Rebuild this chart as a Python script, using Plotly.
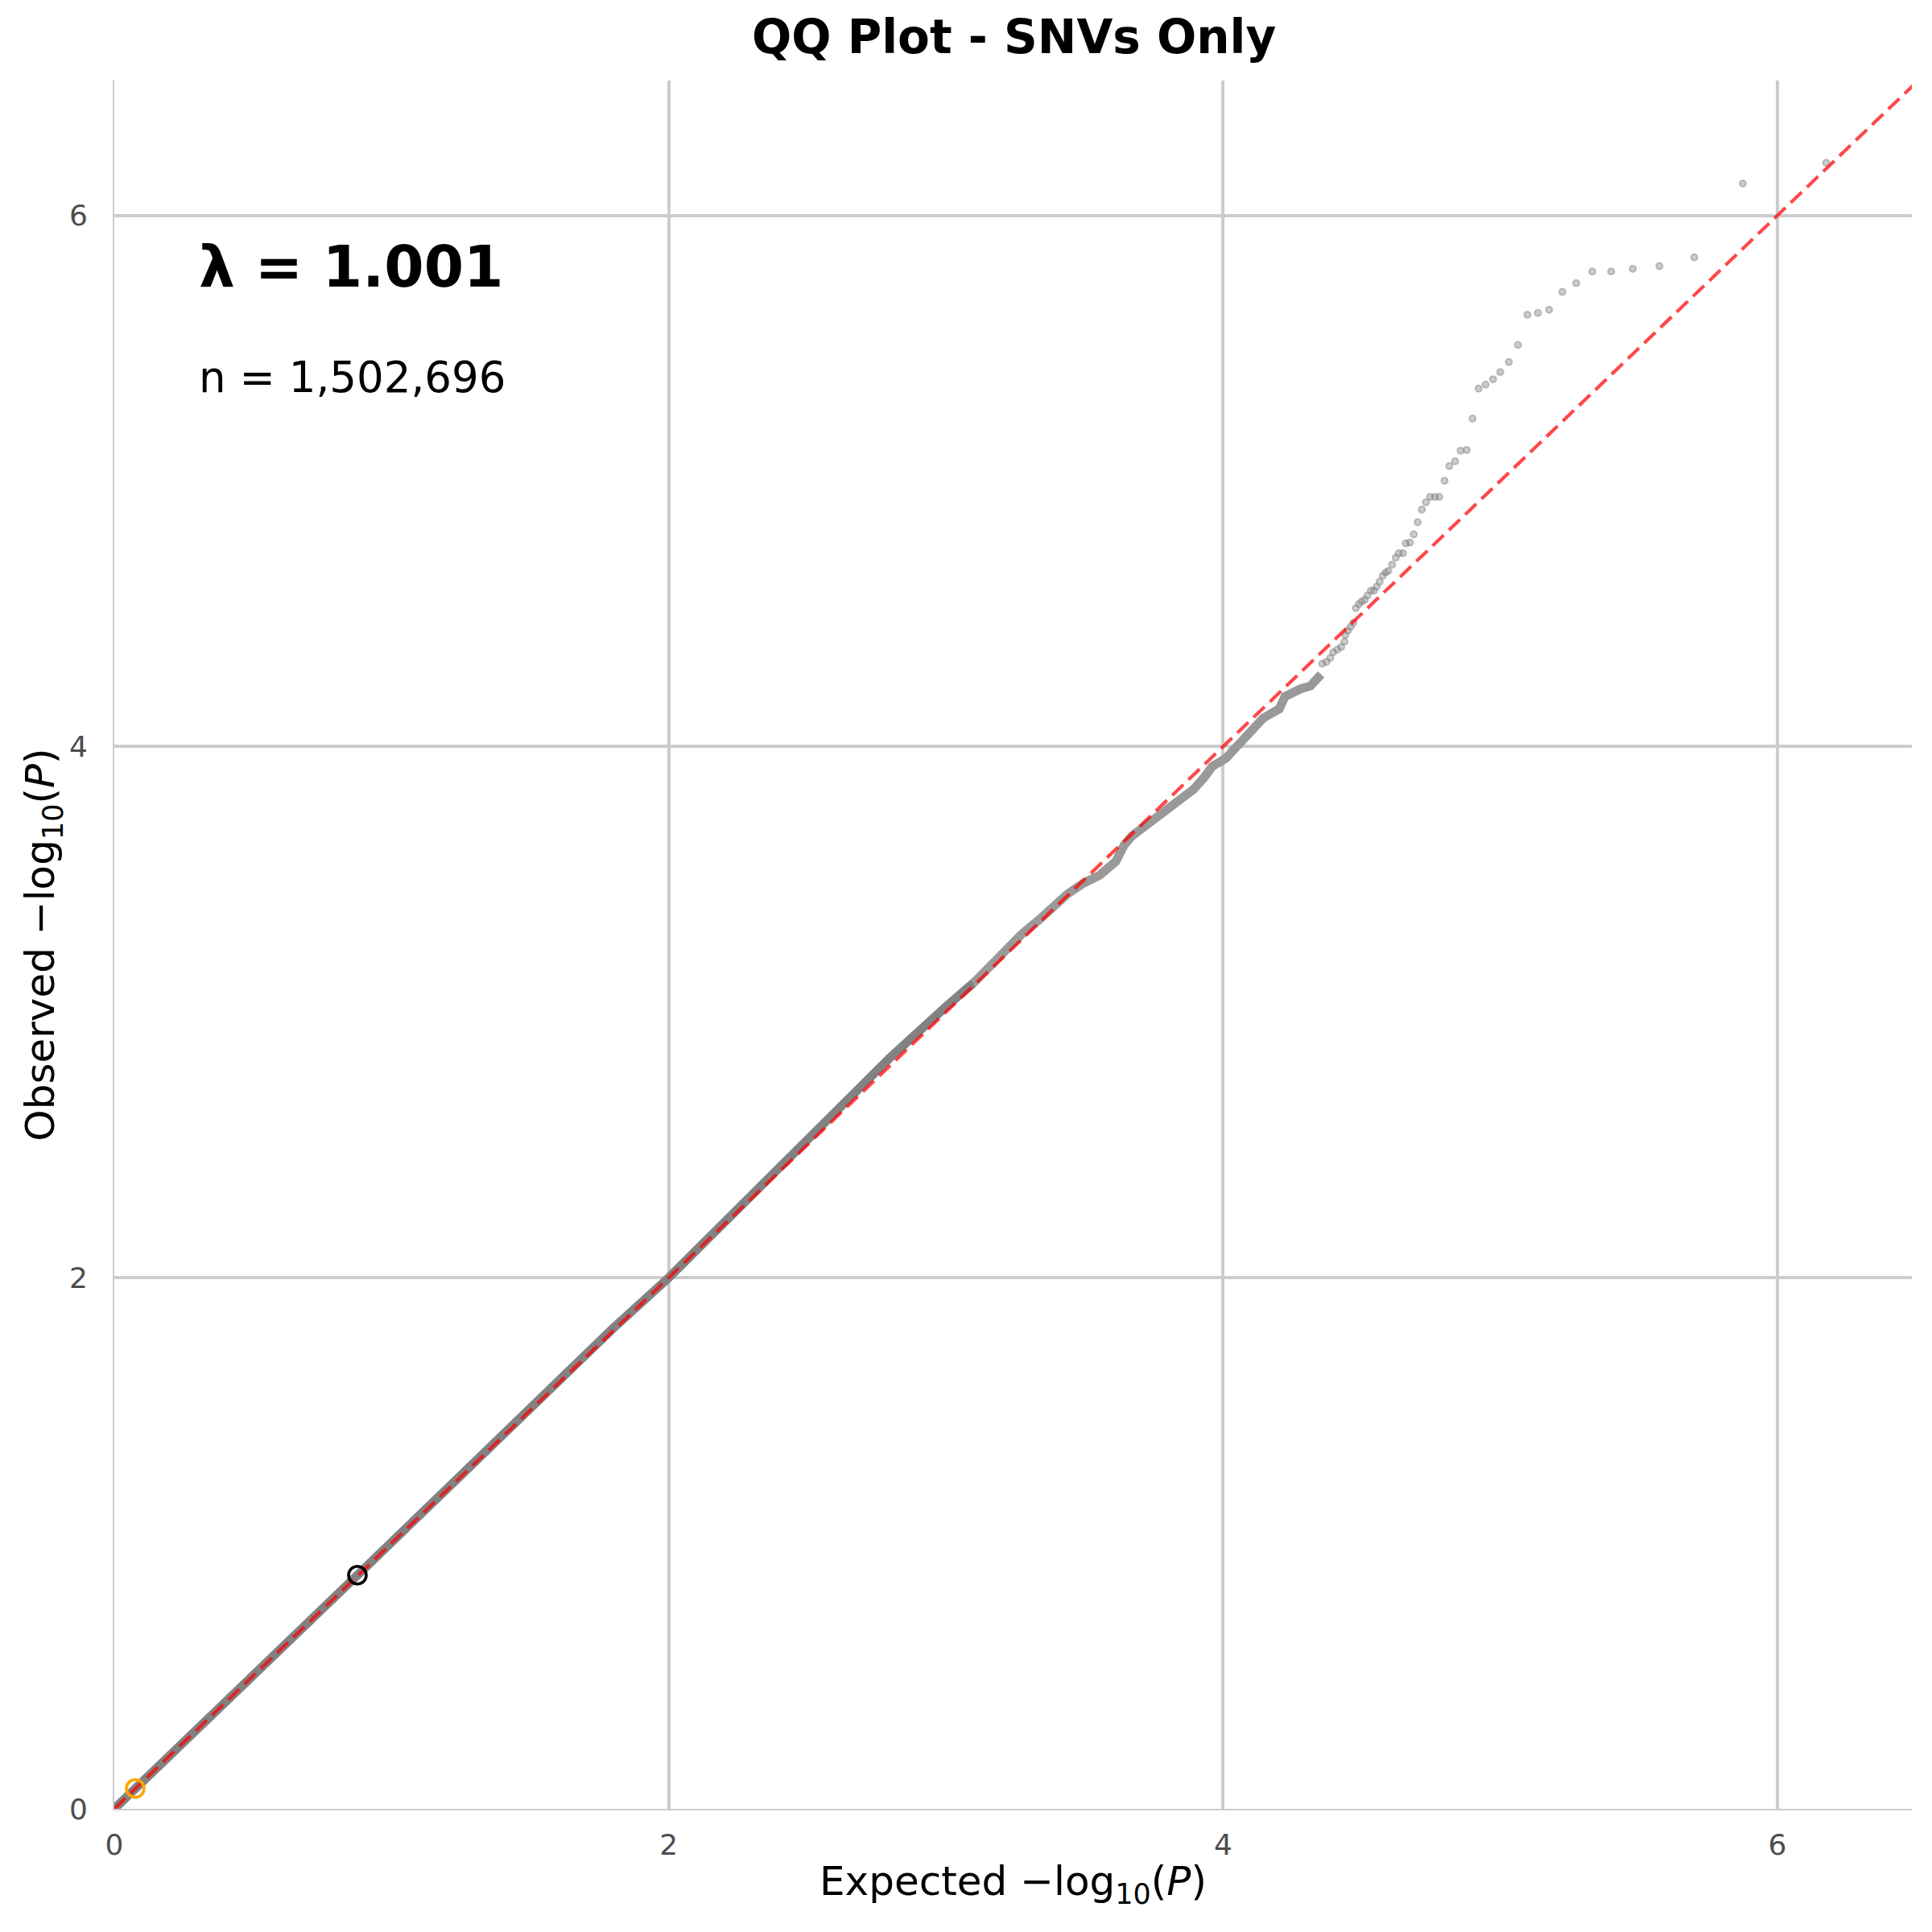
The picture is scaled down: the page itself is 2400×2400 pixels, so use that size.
import plotly.graph_objects as go

# ---- data ----
bulk_low_exp = [0.0, 0.0755, 0.3, 0.6, 0.877, 1.2, 1.5, 1.8, 2.0, 2.3, 2.6, 2.8, 3.0, 3.1]
bulk_low_obs = [0.0, 0.0767, 0.302, 0.603, 0.880, 1.205, 1.51, 1.81, 2.0, 2.31, 2.62, 2.83, 3.02, 3.11]

bulk_high_exp = [3.1, 3.226, 3.274, 3.333, 3.381, 3.439, 3.497, 3.555, 3.613, 3.642, 3.671, 3.739,
                 3.787, 3.836, 3.894, 3.933, 3.961, 4.010, 4.058, 4.087, 4.116, 4.145, 4.203,
                 4.223, 4.281, 4.315, 4.354]
bulk_high_obs = [3.11, 3.248, 3.294, 3.345, 3.395, 3.445, 3.486, 3.516, 3.567, 3.627, 3.663, 3.718,
                 3.754, 3.789, 3.839, 3.885, 3.925, 3.956, 4.006, 4.042, 4.072, 4.107, 4.142,
                 4.188, 4.218, 4.228, 4.272]

tail_exp = [4.358, 4.373, 4.387, 4.397, 4.412, 4.426, 4.438, 4.441, 4.450, 4.460, 4.470, 4.479,
            4.490, 4.500, 4.511, 4.521, 4.533, 4.544, 4.554, 4.565, 4.576, 4.586, 4.596, 4.610,
            4.623, 4.634, 4.649, 4.659, 4.674, 4.688, 4.702, 4.717, 4.732, 4.747, 4.764, 4.780,
            4.799, 4.816, 4.837, 4.857, 4.879, 4.900, 4.922, 4.947, 4.974, 5.000, 5.031, 5.064,
            5.098, 5.136, 5.176, 5.224, 5.274, 5.332, 5.400, 5.478, 5.574, 5.700, 5.875, 6.176]
tail_obs = [4.312, 4.319, 4.334, 4.355, 4.365, 4.375, 4.395, 4.420, 4.436, 4.451, 4.466, 4.521,
            4.536, 4.546, 4.552, 4.569, 4.587, 4.587, 4.602, 4.621, 4.643, 4.655, 4.661, 4.685,
            4.711, 4.728, 4.728, 4.765, 4.768, 4.799, 4.845, 4.892, 4.920, 4.940, 4.940, 4.940,
            5.001, 5.056, 5.074, 5.114, 5.117, 5.235, 5.348, 5.363, 5.383, 5.410, 5.448, 5.512,
            5.626, 5.633, 5.645, 5.712, 5.745, 5.789, 5.789, 5.799, 5.809, 5.842, 6.120, 6.198]

diag_x = [0.0, 6.6]
diag_y = [0.0, 6.6]

highlight_orange = (0.0755, 0.0767)
highlight_black = (0.877, 0.880)

x_ticks = [0, 2, 4, 6]
y_ticks = [0, 2, 4, 6]
x_max = 6.485
y_max = 6.508

lambda_text = "λ = 1.001"
n_text = "n = 1,502,696"

FONT = "DejaVu Sans"

fig = go.Figure()

fig.add_trace(go.Scatter(x=bulk_low_exp, y=bulk_low_obs, mode="lines",
                         line=dict(color="#828282", width=11), hoverinfo="skip", showlegend=False))
fig.add_trace(go.Scatter(x=bulk_high_exp, y=bulk_high_obs, mode="lines",
                         line=dict(color="#999999", width=11), hoverinfo="skip", showlegend=False))
fig.add_trace(go.Scatter(x=tail_exp, y=tail_obs, mode="markers",
                         marker=dict(size=8, color="rgba(128,128,128,0.40)",
                                     line=dict(color="rgba(128,128,128,0.45)", width=2)),
                         showlegend=False))
fig.add_trace(go.Scatter(x=diag_x, y=diag_y, mode="lines",
                         line=dict(color="rgba(255,0,0,0.72)", width=4.2, dash="19px,9px"),
                         showlegend=False))
fig.add_trace(go.Scatter(x=[highlight_orange[0]], y=[highlight_orange[1]], mode="markers",
                         marker=dict(size=22, color="rgba(0,0,0,0)",
                                     line=dict(color="#FFA500", width=3.6)),
                         showlegend=False))
fig.add_trace(go.Scatter(x=[highlight_black[0]], y=[highlight_black[1]], mode="markers",
                         marker=dict(size=22, color="rgba(0,0,0,0)",
                                     line=dict(color="black", width=3.6)),
                         showlegend=False))

fig.add_annotation(xref="paper", yref="paper", x=0.046, y=0.8924, xanchor="left", yanchor="middle",
                   text="<b>" + lambda_text + "</b>", showarrow=False,
                   font=dict(family=FONT, size=71, color="black"))
fig.add_annotation(xref="paper", yref="paper", x=0.046, y=0.8284, xanchor="left", yanchor="middle",
                   text=n_text, showarrow=False,
                   font=dict(family=FONT, size=53, color="black"))

axis_common = dict(showgrid=True, gridcolor="#cccccc", gridwidth=3.5, zeroline=False,
                   showline=True, linecolor="#cccccc", linewidth=2, ticks="",
                   tickfont=dict(family=FONT, size=36, color="#4d4d4d"), automargin=False)

fig.update_layout(
    width=2400, height=2400,
    paper_bgcolor="white", plot_bgcolor="white",
    margin=dict(l=134, r=33, t=92, b=161),
    title=dict(text="<b>QQ Plot - SNVs Only</b>", x=0.5215, xanchor="center",
               y=1 - 38 / 2400, yanchor="middle", yref="container",
               font=dict(family=FONT, size=58, color="black")),
    xaxis=dict(range=[0, x_max], tickvals=x_ticks, ticklabelstandoff=12,
               title=dict(text="Expected −log<sub>10</sub>(<i>P</i>)", standoff=8,
                          font=dict(family=FONT, size=50, color="black")),
               **axis_common),
    yaxis=dict(range=[0, y_max], tickvals=y_ticks, ticklabelstandoff=24,
               title=dict(text="Observed −log<sub>10</sub>(<i>P</i>)", standoff=2,
                          font=dict(family=FONT, size=50, color="black")),
               **axis_common),
)

fig.write_html("out.html")
